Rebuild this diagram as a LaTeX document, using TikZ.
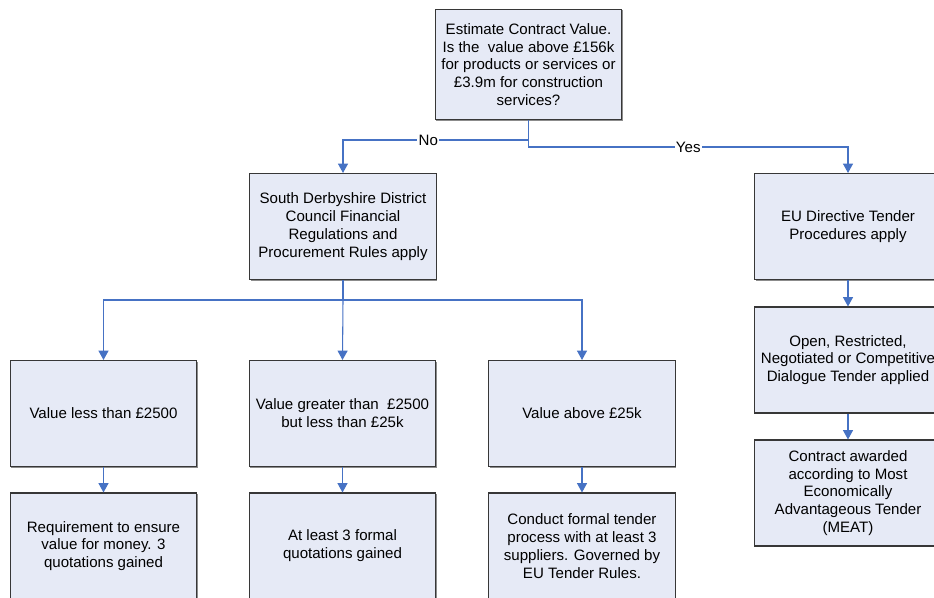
\documentclass[tikz,border=0pt]{standalone}
\usepackage{fontspec}
\setmainfont{Liberation Sans}
\usetikzlibrary{arrows.meta,shadows}
\definecolor{boxfill}{RGB}{230,234,246}
\definecolor{boxline}{RGB}{55,55,55}
\definecolor{linkblue}{RGB}{70,114,196}

\begin{document}
\begin{tikzpicture}[x=0.75pt, y=-0.75pt]
\tikzstyle{box} = [rectangle, draw=boxline, fill=boxfill, line width=0.8pt, minimum width=140pt, minimum height=79.5pt, align=center, inner sep=2pt, font=\fontsize{11.3}{13.4}\selectfont, drop shadow={shadow xshift=0.8pt, shadow yshift=-0.8pt, fill=black!45, opacity=1}]
\tikzstyle{link} = [draw=linkblue, line width=0.8pt]
\tikzstyle{arr} = [link, -{Triangle[length=7pt, width=7.5pt]}]
\tikzstyle{lbl} = [fill=white, inner sep=1pt, font=\fontsize{11.3}{13}\selectfont]
\useasboundingbox (0,0) rectangle (934,597);
% decision
\node[box, minimum height=83pt] (value) at (528.5,64.5) {Estimate Contract Value.\\ Is the \ value above £156k\\ for products or services or\\ £3.9m for construction\\ services?};
% local rules branch
\node[box] (local) at (343,226.5) {South Derbyshire District\\ Council Financial\\ Regulations and\\ Procurement Rules apply};
\node[box] (low) at (103.5,413.5) {Value less than £2500};
\node[box] (mid) at (342.5,413.5) {Value greater than \ £2500\\ but less than £25k};
\node[box] (high) at (582,413.5) {Value above £25k};
\node[box] (lowres) at (103.5,546) {Requirement to ensure\\ value for money. 3\\ quotations gained};
\node[box] (midres) at (342.5,546) {At least 3 formal\\ quotations gained};
\node[box] (highres) at (582,546) {Conduct formal tender\\ process with at least 3\\ suppliers. Governed by\\ EU Tender Rules.};
% EU branch
\node[box] (eu) at (848,226.5) {EU Directive Tender\\ Procedures apply};
\node[box] (open) at (848,360) {Open, Restricted,\\ Negotiated or Competitive\\ Dialogue Tender applied};
\node[box] (meat) at (848,493) {Contract awarded\\ according to Most\\ Economically\\ Advantageous Tender\\ (MEAT)};
\coordinate (nojoin) at (343,140);
\coordinate (yesjoin) at (848,147);
\coordinate (fan) at (343,300);
\draw[arr] (value.south) |- node[lbl, pos=0.77] {No} (nojoin) -- (local.north);
\draw[arr] (value.south) |- node[lbl, pos=0.75] {Yes} (yesjoin) -- (eu.north);
\draw[link] (local.south) -- (fan);
\draw[arr] (fan) -| (low.north);
\draw[arr] (fan) -- (mid.north);
\draw[arr] (fan) -| (high.north);
\draw[arr] (low) -- (lowres);
\draw[arr] (mid) -- (midres);
\draw[arr] (high) -- (highres);
\draw[arr] (eu) -- (open);
\draw[arr] (open) -- (meat);
\end{tikzpicture}
\end{document}
